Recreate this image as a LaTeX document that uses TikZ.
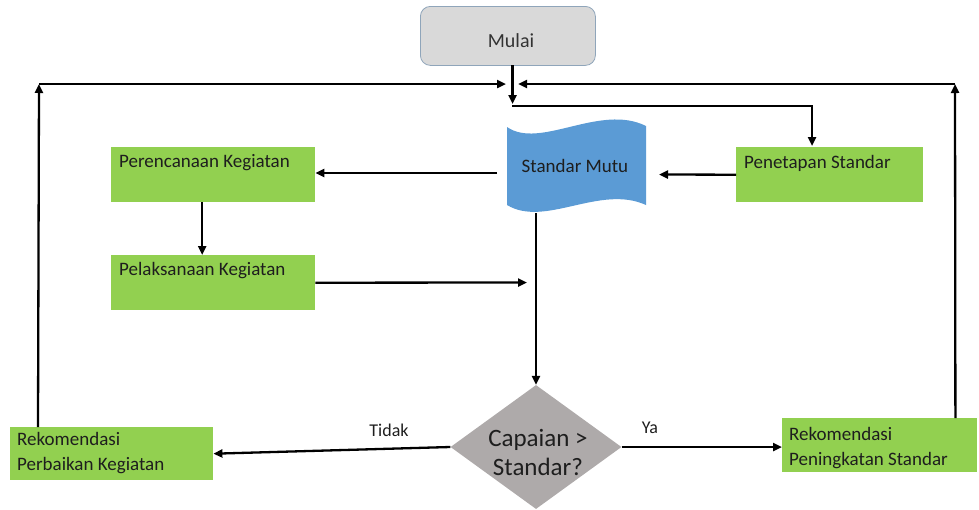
\documentclass[tikz,border=0pt]{standalone}
\usepackage{fontspec}
\setmainfont{Carlito}
\usetikzlibrary{arrows.meta,shapes.geometric}
\definecolor{gboxc}{HTML}{92D050}
\definecolor{bluec}{HTML}{5B9BD5}
\definecolor{grayc}{HTML}{D9D9D9}
\definecolor{grayb}{HTML}{8FA5BA}
\definecolor{decc}{HTML}{AEAAAA}
\definecolor{txtc}{HTML}{1E1E1E}
\begin{document}
\begin{tikzpicture}[x=1pt,y=-1pt,
  font=\fontsize{19}{25}\selectfont,
  arr/.style={line width=2.3pt,-{Triangle[length=9pt,width=8pt]}},
  gbox/.style={fill=gboxc,draw=none,inner sep=0pt,anchor=north west},
  txt/.style={text=txtc,inner sep=0pt,anchor=west,align=left},
  lbl/.style={text=txtc,inner sep=0pt,font=\fontsize{18}{20}\selectfont}]
\useasboundingbox (0,0) rectangle (979,509);
% start
\node[fill=grayc,draw=grayb,line width=0.8pt,rounded corners=10pt,minimum width=175pt,minimum height=59pt,anchor=north west] (mulai) at (420,6) {};
\node[txt,anchor=center,text=black!80,font=\fontsize{20}{25}\selectfont] (tmulai) at (511,41) {Mulai};
% standar mutu (tape)
\fill[bluec] (507,127) .. controls (540,150) and (600,103) .. (646,126) -- (646,205) .. controls (600,184) and (545,228) .. (507,205) -- cycle;
\node[inner sep=0pt,minimum width=139pt,minimum height=80pt] (smutu) at (576,166) {};
\node[txt,anchor=center] (tsm) at (575,166) {Standar Mutu};
% green boxes
\node[gbox,minimum width=204pt,minimum height=55pt] (per) at (111,147) {};
\node[txt] (tper) at (119,163) {Perencanaan Kegiatan};
\node[gbox,minimum width=204pt,minimum height=55pt] (pel) at (111,255) {};
\node[txt] (tpel) at (119,271) {Pelaksanaan Kegiatan};
\node[gbox,minimum width=187pt,minimum height=55pt] (pen) at (736,147) {};
\node[txt] (tpen) at (744,163) {Penetapan Standar};
\node[gbox,minimum width=203pt,minimum height=53pt] (rpb) at (10,427) {};
\node[txt] (trpb) at (17,453.5) {Rekomendasi\\Perbaikan Kegiatan};
\node[gbox,minimum width=195pt,minimum height=54pt] (rpk) at (782,418) {};
\node[txt] (trpk) at (789,448) {Rekomendasi\\Peningkatan Standar};
% decision
\node[diamond,fill=decc,minimum width=171pt,minimum height=124pt,inner sep=0pt] (dec) at (536,447) {};
\node[txt,anchor=center,align=center,font=\fontsize{25}{29}\selectfont] (tdec) at (538,452) {Capaian >\\Standar?};
% coordinates
\coordinate (mT) at (512.5,65);
\coordinate (mB) at (512.5,104);
\coordinate (jR) at (512,106);
\coordinate (penT) at (812,146);
\coordinate (cl) at (39,84);
\coordinate (clT) at (506,84);
\coordinate (cr) at (955,84);
\coordinate (crT) at (518,84);
\coordinate (smL) at (497,173);
\coordinate (smR) at (659,174.5);
\coordinate (pelT) at (527,282.5);
\coordinate (smB) at (536,213);
% connectors
\draw[arr] (mT) -- (mB);
\draw[arr] (jR) -| (penT);
\draw[arr] ([xshift=28pt]rpb.north west) -- (cl);
\draw[arr] (cl) -- (clT);
\draw[arr] ([xshift=-22pt]rpk.north east) -- (cr);
\draw[arr] (cr) -- (crT);
\draw[arr] (smL) -- (per.east |- smL);
\draw[arr] (pen.west) -- (smR);
\draw[arr] ([xshift=-11pt]per.south) -- ([xshift=-11pt]pel.north);
\draw[arr] (pel.east) -- (pelT);
\draw[arr] (smB) -- (dec.north);
\draw[arr] (dec.west) -- (rpb.east);
\draw[arr] (dec.east) -- (rpk.west |- dec.east);
\node[lbl] (ltidak) at (389,430) {Tidak};
\node[lbl] (lya) at (650,428) {Ya};
\end{tikzpicture}
\end{document}
